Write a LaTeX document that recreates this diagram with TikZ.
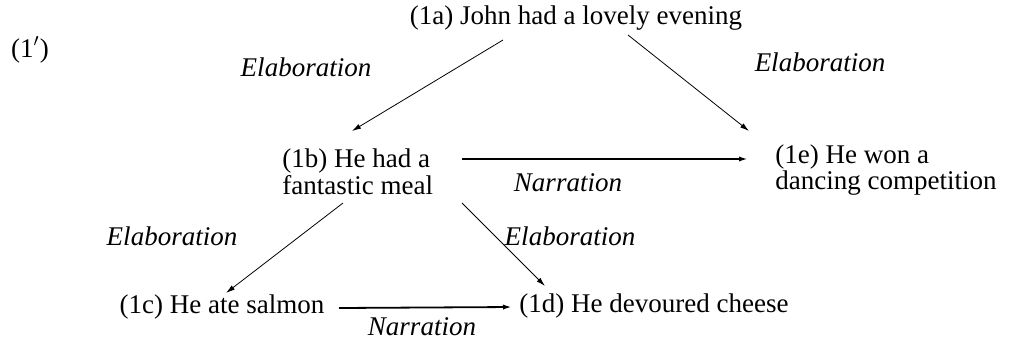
\documentclass[tikz,border=0pt]{standalone}
\usepackage{fontspec}
\setmainfont{Liberation Serif}
\usetikzlibrary{arrows.meta,calc}

\tikzset{
  sent/.style={inner sep=0pt, font=\fontsize{13.5}{12}\selectfont},
  rel/.style={inner sep=0pt, font=\fontsize{13.5}{12}\selectfont\itshape},
  elab/.style={line width=0.4pt, -{Latex[length=4.5pt,width=2.6pt]}},
  narr/.style={line width=0.9pt, -{Latex[length=4.5pt,width=2.6pt]}}
}

\begin{document}
\begin{tikzpicture}[x=0.5pt,y=-0.5pt]
\useasboundingbox (0,0) rectangle (1014,339);

\node[sent] (ex) at (30,50) {(1$'$)};

\node[sent] (a) at (576,18) {(1a) John had a lovely evening};
\node[sent,anchor=west,align=left] (b) at (282,172) {(1b) He had a\\fantastic meal};
\node[sent,anchor=west,align=left] (e) at (775,170) {(1e) He won a\\dancing competition};
\node[sent] (c) at (222,307) {(1c) He ate salmon};
\node[sent,anchor=west] (d) at (519,306) {(1d) He devoured cheese};

% relation labels
\node[rel] (ab) at (306,67) {Elaboration};
\node[rel] (ae) at (820,62) {Elaboration};
\node[rel] (be) at (568,183) {Narration};
\node[rel] (bc) at (172,236) {Elaboration};
\node[rel] (bd) at (570,236) {Elaboration};
\node[rel] (cd) at (422,327) {Narration};

% arrows
\draw[elab] ($(a.center)+(-73,22)$) -- ($(b.west)+(70,-41)$);
\draw[elab] ($(a.center)+(52,17)$) -- ($(e.west)+(-26,-39)$);
\draw[narr] ($(b.west)+(180,-13)$) -- ($(e.west)+(-27,-11)$);
\draw[elab] ($(b.west)+(61,31)$) -- ($(c.center)+(4,-14)$);
\draw[elab] ($(b.west)+(180,31)$) -- ($(d.west)+(26,-20)$);
\draw[narr] ($(c.center)+(117,1)$) -- ($(d.west)+(-7,1)$);
\end{tikzpicture}
\end{document}
